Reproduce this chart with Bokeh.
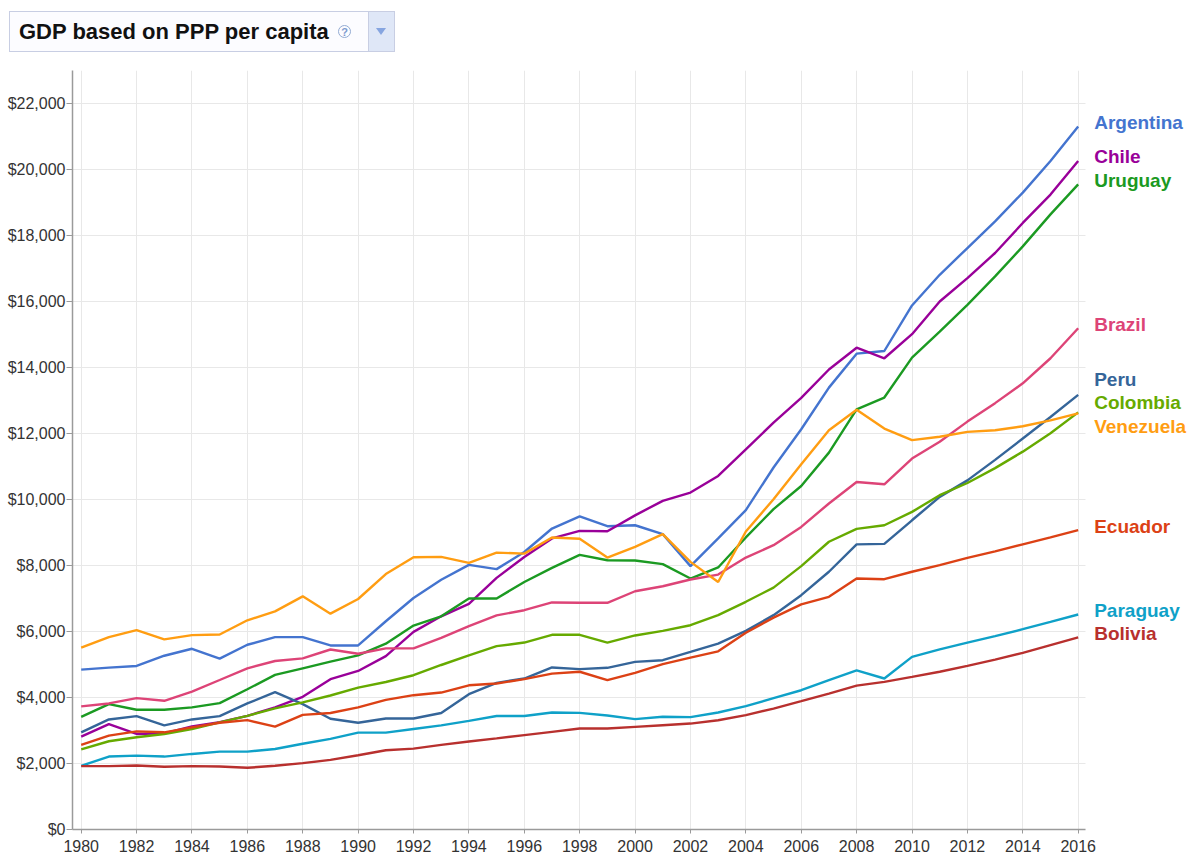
from bokeh.plotting import figure
from bokeh.models import (Div, FixedTicker, NumeralTickFormatter, Range1d, ColumnDataSource)
from bokeh.core.properties import value
from bokeh.layouts import column
from bokeh.embed import file_html
from bokeh.resources import INLINE

title_text = "GDP based on PPP per capita"

years = list(range(1980, 2017))
x_ticks = list(range(1980, 2017, 2))
y_ticks = list(range(0, 22001, 2000))

countries = ["Argentina", "Chile", "Uruguay", "Brazil", "Peru", "Colombia",
             "Venezuela", "Ecuador", "Paraguay", "Bolivia"]
colors = ["#4474cf", "#990099", "#1b9a22", "#dd4477", "#356599", "#66aa00",
          "#ff9d12", "#dc4115", "#0fa1c8", "#b8302e"]

argentina = [4844, 4904, 4955, 5266, 5477, 5176, 5598, 5829, 5829, 5578, 5578, 6310,
             7015, 7570, 8020, 7890, 8410, 9120, 9490, 9190, 9220, 8950, 7980, 8820,
             9680, 10970, 12130, 13390, 14420, 14500, 15880, 16810, 17620, 18430,
             19300, 20260, 21300]
chile = [2815, 3195, 2895, 2915, 3125, 3255, 3445, 3700, 4020, 4555, 4805, 5255, 5990,
         6460, 6835, 7625, 8260, 8820, 9050, 9040, 9520, 9960, 10210, 10715, 11520,
         12330, 13080, 13940, 14600, 14280, 15010, 16000, 16710, 17470, 18380, 19240,
         20260]
uruguay = [3415, 3800, 3630, 3630, 3700, 3830, 4250, 4685, 4885, 5085, 5275, 5630, 6180,
           6460, 7000, 7000, 7500, 7930, 8320, 8160, 8150, 8040, 7605, 7940, 8850, 9710,
           10410, 11420, 12730, 13090, 14300, 15090, 15900, 16760, 17670, 18640, 19550]
brazil = [3730, 3820, 3980, 3900, 4180, 4530, 4885, 5105, 5185, 5455, 5325, 5490, 5490,
          5810, 6160, 6490, 6645, 6880, 6870, 6870, 7220, 7370, 7575, 7725, 8240, 8615,
          9170, 9880, 10530, 10460, 11240, 11750, 12360, 12920, 13520, 14280, 15190]
peru = [2945, 3335, 3435, 3155, 3335, 3435, 3820, 4160, 3800, 3355, 3235, 3365, 3365,
        3530, 4100, 4445, 4575, 4910, 4860, 4900, 5080, 5130, 5380, 5635, 6020, 6495,
        7100, 7810, 8640, 8655, 9370, 10080, 10580, 11200, 11850, 12500, 13170]
colombia = [2430, 2675, 2795, 2895, 3045, 3245, 3445, 3670, 3850, 4060, 4300, 4470, 4675,
            4985, 5275, 5555, 5665, 5900, 5900, 5665, 5880, 6020, 6190, 6495, 6900, 7330,
            7980, 8720, 9110, 9220, 9625, 10130, 10500, 10950, 11450, 12010, 12640]
venezuela = [5508, 5830, 6040, 5760, 5890, 5910, 6340, 6610, 7065, 6540, 6985, 7740, 8250,
             8260, 8080, 8390, 8360, 8850, 8810, 8240, 8565, 8950, 8110, 7500, 9030, 10010,
             11070, 12100, 12720, 12150, 11800, 11900, 12050, 12100, 12220, 12400, 12610]
ecuador = [2565, 2845, 2975, 2945, 3095, 3235, 3315, 3115, 3475, 3530, 3700, 3930, 4070,
           4150, 4370, 4425, 4555, 4725, 4780, 4525, 4745, 5010, 5210, 5400, 5960, 6420,
           6820, 7050, 7605, 7585, 7810, 8010, 8230, 8430, 8640, 8850, 9070]
paraguay = [1930, 2210, 2240, 2210, 2290, 2360, 2360, 2440, 2600, 2745, 2935, 2935, 3045,
            3155, 3290, 3440, 3440, 3545, 3535, 3455, 3345, 3415, 3405, 3545, 3740, 3980,
            4220, 4525, 4820, 4575, 5230, 5460, 5665, 5860, 6070, 6290, 6515]
bolivia = [1920, 1920, 1940, 1900, 1920, 1910, 1870, 1930, 2010, 2110, 2250, 2400, 2450,
           2565, 2665, 2760, 2860, 2960, 3060, 3060, 3110, 3160, 3210, 3310, 3465, 3665,
           3890, 4120, 4360, 4475, 4625, 4780, 4960, 5150, 5350, 5585, 5820]

series = [argentina, chile, uruguay, brazil, peru, colombia, venezuela, ecuador,
          paraguay, bolivia]
for s in series:
    assert len(s) == len(years)

FONT = "Liberation Sans"

title_html = f"""
<div style="position:relative; margin:11px 0 0 9px; width:386px; height:41px;
 border:1px solid #c8cee3; background:#fcfcff; box-sizing:border-box;
 font-family:'{FONT}', Arial, sans-serif;">
  <span style="position:absolute; left:9px; top:9px; font-size:22px; line-height:22px;
   font-weight:bold; color:#111; white-space:nowrap;">{title_text}</span>
  <span style="position:absolute; left:328px; top:13px; width:13px; height:13px;
   border:1.5px solid #93abd3; border-radius:50%; font-size:11px; line-height:13px;
   text-align:center; color:#7d9bcf; font-weight:bold;">?</span>
  <div style="position:absolute; left:358px; top:0px; width:26px; height:39px;
   background:#dfe7f7; border-left:1px solid #c8cee3;"></div>
  <div style="position:absolute; left:366px; top:16px; width:0; height:0;
   border-left:5px solid transparent; border-right:5px solid transparent;
   border-top:7px solid #86a5e0;"></div>
</div>
"""
div = Div(text=title_html, width=420, height=56, margin=(0, 0, 0, 0))

Y_MAX = 23000
X_START = 1979.686
X_AXIS_END = 2016.264
X_END = 2020.417

p = figure(width=1200, height=798, output_backend="svg", toolbar_location=None,
           x_range=Range1d(X_START, X_END), y_range=Range1d(0, Y_MAX),
           min_border_left=72, min_border_right=0, min_border_top=14,
           min_border_bottom=0, margin=(0, 0, 0, 0))
p.outline_line_color = None
p.background_fill_color = "white"
p.border_fill_color = "white"

p.xaxis.ticker = FixedTicker(ticks=x_ticks)
p.xaxis.bounds = (X_START, X_AXIS_END)
p.yaxis.ticker = FixedTicker(ticks=y_ticks)
p.yaxis.formatter = NumeralTickFormatter(format="$0,0")
p.xgrid.ticker = FixedTicker(ticks=x_ticks)
p.xgrid.grid_line_color = "#e8e8e8"
p.ygrid.grid_line_color = None

# horizontal grid lines limited to the axis extent
p.segment(x0=[X_START] * len(y_ticks), x1=[X_AXIS_END] * len(y_ticks),
          y0=y_ticks, y1=y_ticks, line_color="#e8e8e8", line_width=1)

for ax in (p.xaxis, p.yaxis):
    ax.axis_line_color = "#9a9a9a"
    ax.axis_line_width = 1.5
    ax.major_tick_line_color = "#9a9a9a"
    ax.minor_tick_line_color = None
    ax.major_tick_in = 0
    ax.major_label_text_font = FONT
    ax.major_label_text_font_size = "16px"
    ax.major_label_text_color = "#333333"
p.xaxis.major_tick_out = 4
p.xaxis.major_label_standoff = 6
p.yaxis.major_tick_out = 6
p.yaxis.major_label_standoff = 1

for name, vals, col in zip(countries, series, colors):
    p.line(years, vals, line_color=col, line_width=2.4)

# end labels: slightly above line end, spread apart to avoid overlap
frame_px = 759.0
gap_units = 23.8 * Y_MAX / frame_px
lift_units = 4.0 * Y_MAX / frame_px
order = sorted(range(len(countries)), key=lambda i: -series[i][-1])
pos = [series[i][-1] + lift_units for i in order]
for _ in range(300):
    for k in range(len(pos) - 1):
        d = pos[k] - pos[k + 1]
        if d < gap_units:
            sh = (gap_units - d) / 2.0
            pos[k] += sh
            pos[k + 1] -= sh
label_src = ColumnDataSource(dict(
    x=[years[-1]] * len(order),
    y=pos,
    text=[countries[i] for i in order],
    color=[colors[i] for i in order],
))
p.text(x="x", y="y", text="text", source=label_src, x_offset=16,
       text_font=value(FONT), text_font_size="19px", text_font_style="bold",
       text_color="color", text_baseline="middle", text_align="left")

layout = column(div, p, spacing=0, margin=(0, 0, 0, 0))
open("out.html", "w").write(file_html(layout, INLINE))
